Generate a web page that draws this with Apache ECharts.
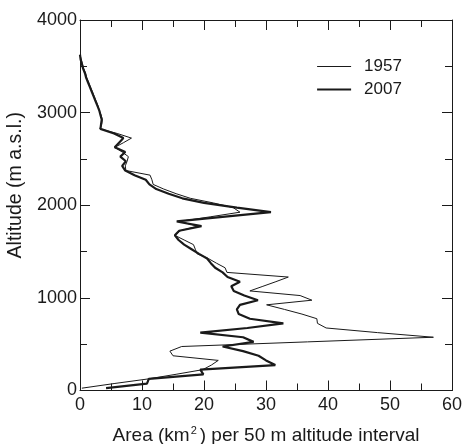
<!DOCTYPE html>
<html>
<head>
<meta charset="utf-8">
<script src="https://cdn.jsdelivr.net/npm/echarts@6/dist/echarts.min.js"></script>
<style>
  html, body { margin: 0; padding: 0; background: #fff; }
  #chart { width: 464px; height: 444px; }
</style>
</head>
<body>
<div id="chart"></div>
<script>
// Altitude band centres (m a.s.l.), one per 50 m interval
const altitudes = [];
for (let a = 25; a <= 3625; a += 50) altitudes.push(a);

// Glacier area (km2) in each 50 m altitude band, lowest band first
const area1957 = [
  0.3, 5.5, 11.0, 15.5, 19.8, 21.2, 22.3, 15.0, 14.5, 16.4,
  36.7, 57.0, 48.0, 39.7, 38.3, 38.2, 35.8, 33.0, 30.1, 37.4,
  35.5, 27.4, 29.5, 31.6, 33.6, 23.7, 23.4, 22.0, 20.7, 18.9,
  18.6, 18.3, 16.8, 15.3, 16.2, 19.0, 16.0, 21.0, 25.8, 24.7,
  21.5, 17.8, 15.5, 13.5, 11.8, 11.6, 11.3, 7.4, 7.3, 7.6,
  7.8, 6.8, 5.6, 7.0, 8.3, 6.0, 3.2, 3.5, 3.6, 3.4,
  3.1, 2.9, 2.6, 2.3, 2.0, 1.7, 1.4, 1.1, 0.9, 0.6,
  0.4, 0.2, 0.0
];
const area2007 = [
  4.2, 10.8, 11.1, 19.9, 19.4, 31.5, 30.0, 28.8, 26.3, 23.0,
  28.0, 26.3, 19.4, 27.0, 32.8, 27.4, 25.6, 25.3, 25.8, 28.7,
  26.5, 24.8, 24.4, 25.8, 23.8, 23.0, 21.8, 21.1, 20.5, 19.2,
  18.0, 16.8, 15.9, 15.3, 16.0, 19.6, 15.6, 23.0, 30.8, 25.3,
  20.0, 16.5, 14.3, 12.3, 11.2, 10.6, 8.8, 7.3, 6.8, 7.4,
  6.5, 7.3, 5.6, 6.3, 7.0, 5.5, 3.3, 3.4, 3.5, 3.3,
  3.1, 2.8, 2.5, 2.2, 1.9, 1.6, 1.3, 1.0, 0.8, 0.5,
  0.3, 0.1, 0.0
];

const xTicks = [0, 10, 20, 30, 40, 50, 60];
const yTicks = [0, 1000, 2000, 3000, 4000];

const ink = '#1a1a1a';
const font = 'Liberation Sans, Arial, Helvetica, sans-serif';
const thinWidth = 1;
const thickWidth = 2.2;

function pairs(values) {
  return values.map((v, i) => [v, altitudes[i]]);
}

function boxAxis(extra) {
  return Object.assign({
    type: 'value',
    axisLine: { show: true, onZero: false, lineStyle: { color: ink, width: 1 } },
    axisTick: { show: true, inside: true, length: 10, lineStyle: { color: ink, width: 1 } },
    minorTick: { show: true, splitNumber: 2, length: 7, lineStyle: { color: ink, width: 1 } },
    splitLine: { show: false },
    minorSplitLine: { show: false }
  }, extra);
}

const chart = echarts.init(document.getElementById('chart'), null, { renderer: 'canvas' });

chart.setOption({
  animation: false,
  backgroundColor: '#fff',
  textStyle: { fontFamily: font },
  grid: { left: 80, right: 12, top: 20, bottom: 53.5, containLabel: false, outerBoundsMode: 'none' },
  legend: {
    orient: 'vertical',
    left: 311,
    top: 53,
    itemWidth: 34,
    itemHeight: 14,
    itemGap: 6,
    itemStyle: { opacity: 0 },
    textStyle: { color: ink, fontSize: 17, fontFamily: font, padding: [0, 0, 0, 8] },
    data: [
      { name: '1957', lineStyle: { width: thinWidth, color: ink } },
      { name: '2007', lineStyle: { width: thickWidth, color: ink } }
    ]
  },
  xAxis: [
    boxAxis({
      position: 'bottom',
      min: xTicks[0], max: xTicks[xTicks.length - 1], interval: 10,
      name: 'Area (km{sup|2}) per 50 m altitude interval',
      nameLocation: 'middle',
      nameGap: 35,
      nameTextStyle: {
        color: ink, fontSize: 19, fontFamily: font,
        rich: { sup: { fontSize: 11, verticalAlign: 'top', padding: [0, 3, 9, 1], color: ink, fontFamily: font } }
      },
      axisLabel: { color: ink, fontSize: 18, margin: 6, fontFamily: font }
    }),
    boxAxis({
      position: 'top',
      min: xTicks[0], max: xTicks[xTicks.length - 1], interval: 10,
      axisLabel: { show: false }
    })
  ],
  yAxis: [
    boxAxis({
      position: 'left',
      min: yTicks[0], max: yTicks[yTicks.length - 1], interval: 1000,
      name: 'Altitude (m a.s.l.)',
      nameLocation: 'middle',
      nameGap: 41,
      nameRotate: 90,
      nameTextStyle: { color: ink, fontSize: 19.5, fontFamily: font, padding: [0, 0, 0, 40] },
      axisLabel: { color: ink, fontSize: 18, margin: 3, fontFamily: font, formatter: v => String(v) }
    }),
    boxAxis({
      position: 'right',
      min: yTicks[0], max: yTicks[yTicks.length - 1], interval: 1000,
      axisLabel: { show: false }
    })
  ],
  series: [
    {
      name: '1957',
      type: 'line',
      data: pairs(area1957),
      symbol: 'none',
      lineStyle: { color: ink, width: thinWidth },
      itemStyle: { color: ink },
      z: 2
    },
    {
      name: '2007',
      type: 'line',
      data: pairs(area2007),
      symbol: 'none',
      lineStyle: { color: ink, width: thickWidth },
      itemStyle: { color: ink },
      z: 3
    }
  ]
});
</script>
</body>
</html>
